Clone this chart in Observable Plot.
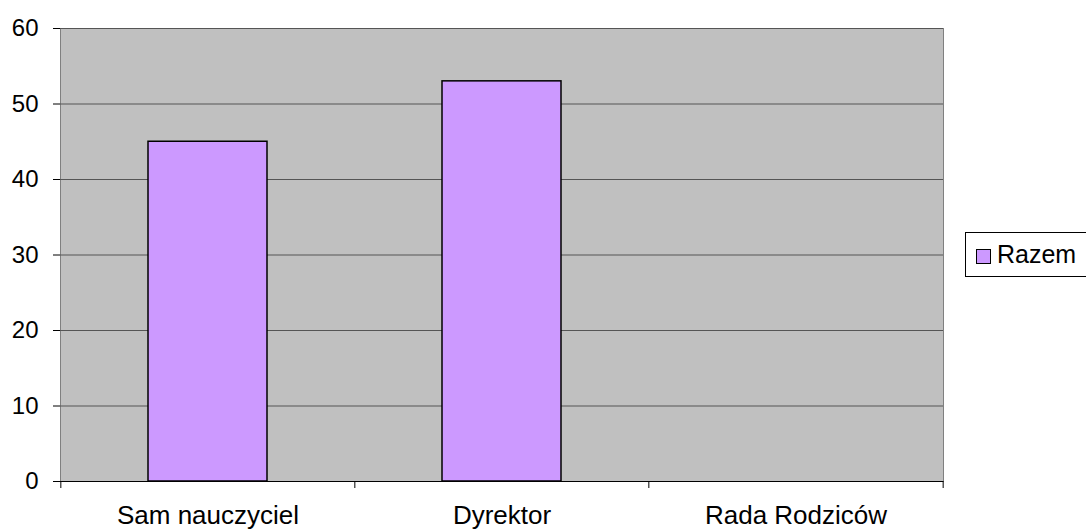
<!DOCTYPE html>
<html>
<head>
<meta charset="utf-8">
<script src="https://cdn.jsdelivr.net/npm/d3@7"></script>
<script src="https://cdn.jsdelivr.net/npm/@observablehq/plot@0.6"></script>
<style>
  html, body { margin: 0; padding: 0; background: #fff; overflow: hidden; }
  #wrap { position: relative; width: 1086px; height: 530px; overflow: hidden; font-family: "Liberation Sans", Arial, sans-serif; }
  #legend { position: absolute; left: 965px; top: 232px; width: 130px; height: 43px; border: 1px solid #000; background: #fff; box-sizing: content-box; }
  #legend .sw { position: absolute; left: 10px; top: 16px; width: 13px; height: 13px; background: #CC99FF; border: 1.5px solid #000; }
  #legend .lb { position: absolute; left: 31px; top: 7px; font-size: 25px; line-height: 28px; color: #000; }
</style>
</head>
<body>
<div id="wrap"></div>
<script>
const categories = ["Sam nauczyciel", "Dyrektor", "Rada Rodziców"];
const values = [45, 53, 0];
const yTicks = [0, 10, 20, 30, 40, 50, 60];
const seriesName = "Razem";

const data = categories.map((c, i) => ({category: c, value: values[i]}));

const W = 1086, H = 530;
const mL = 60, mR = 143, mT = 28, mB = 49;
const step = (W - mL - mR) / categories.length;

const chart = Plot.plot({
  width: W,
  height: H,
  marginLeft: mL,
  marginRight: mR,
  marginTop: mT,
  marginBottom: mB,
  style: {fontFamily: "'Liberation Sans', Arial, sans-serif", fontSize: "25px", color: "#000", background: "#fff"},
  x: {domain: categories, paddingInner: 0.595, paddingOuter: 0.2975, axis: null, label: null},
  y: {domain: [0, 60], axis: null, label: null},
  marks: [
    Plot.frame({fill: "#c0c0c0", stroke: "#808080"}),
    Plot.gridY(yTicks, {stroke: "#555", strokeOpacity: 1}),
    Plot.barY(data, {x: "category", y: "value", fill: "#CC99FF", stroke: "#000", strokeWidth: 1.5}),
    Plot.axisY(yTicks, {tickSize: 7, tickPadding: 15, stroke: "#000", fontSize: 24, tickFormat: d => d, label: null}),
    Plot.ruleX([0], {stroke: "#000"}),
    Plot.axisX(categories, {tickSize: 7, dx: -step / 2, text: null, stroke: "#000", label: null}),
    Plot.axisX([categories[categories.length - 1]], {tickSize: 7, dx: step / 2, text: null, stroke: "#000", label: null}),
    Plot.axisX(categories, {tickSize: 0, tickPadding: 24, fontSize: 26, label: null}),
    Plot.ruleY([0], {stroke: "#000"})
  ]
});

const wrap = document.getElementById("wrap");
wrap.appendChild(chart);
const legend = document.createElement("div");
legend.id = "legend";
legend.innerHTML = '<div class="sw"></div><div class="lb"></div>';
legend.querySelector(".lb").textContent = seriesName;
wrap.appendChild(legend);
</script>
</body>
</html>
